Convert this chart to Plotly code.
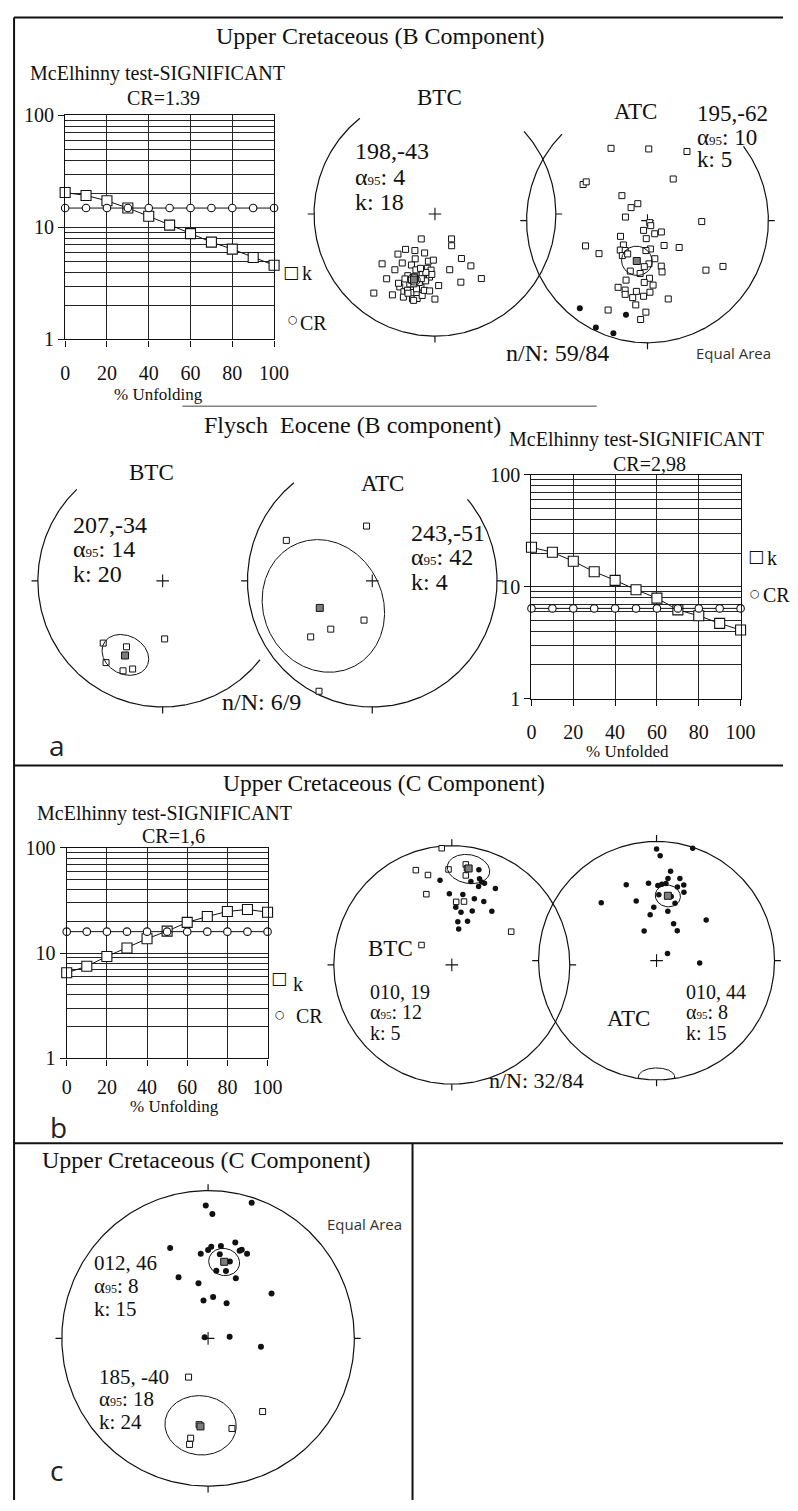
import numpy as np
import plotly.graph_objects as go

W, H = 798, 1511
INK = "#111111"
GRID = "#262626"
MEAN_FILL = "#7d7d7d"
SERIF = "Liberation Serif, Times New Roman, serif"
SANS = "Open Sans, DejaVu Sans, sans-serif"
SYMB = "DejaVu Sans, sans-serif"

# ---------------- McElhinny fold tests: precision k vs. % unfolding ----------------
unfolding = [0, 10, 20, 30, 40, 50, 60, 70, 80, 90, 100]
x_ticks = [0, 20, 40, 60, 80, 100]

ucb_k = [20.5, 19.3, 17.3, 14.9, 12.6, 10.5, 8.8, 7.4, 6.4, 5.4, 4.6]
ucb_cr = [14.9, 14.9, 14.9, 14.9, 14.9, 14.9, 14.9, 14.9, 14.9, 14.9, 14.9]
ucb_test = "CR=1.39"

fly_k = [22.5, 20.3, 16.9, 13.6, 11.4, 9.4, 7.9, 6.2, 5.5, 4.7, 4.1]
fly_cr = [6.4, 6.4, 6.4, 6.4, 6.4, 6.4, 6.4, 6.4, 6.4, 6.4, 6.4]
fly_test = "CR=2,98"

ucc_k = [6.5, 7.5, 9.3, 11.2, 13.7, 16.2, 19.6, 22.3, 24.9, 26.0, 24.5]
ucc_cr = [16.0, 16.0, 16.0, 16.0, 16.0, 16.0, 16.0, 16.0, 16.0, 16.0, 16.0]
ucc_test = "CR=1,6"

# ---------------- site directions (declination, inclination) ----------------
# Upper Cretaceous, B component, before tilt correction
ucb_btc_dec = [209, 146, 152, 220, 209, 223, 195, 227, 214, 204, 205, 188, 182, 149, 145, 216, 188, 184, 165, 217,
               204, 198, 192, 185, 188, 144, 159, 177, 206, 197, 191, 218, 208, 202, 200, 201, 193, 195, 192, 189,
               180, 193, 199, 200, 183, 208, 188, 194, 192, 189, 200, 194, 205, 184, 195, 199, 197]
ucb_btc_inc = [-71, -70, -66, -59, -62, -53, -63, -40, -50, -57, -52, -58, -59, -55, -47, -43, -53, -52, -51, -34,
               -44, -45, -48, -47, -44, -35, -40, -41, -34, -38, -39, -19, -26, -32, -34, -28, -34, -29, -30, -33,
               -31, -42, -50, -39, -49, -36, -37, -28, -45, -50, -42, -37, -41, -37, -52, -32, -40]
# Upper Cretaceous, B component, after tilt correction
ucb_atc_dec = [333, 1, 30, 32, 299, 302, 314, 330, 308, 279, 132, 202, 147, 129, 151, 184, 240, 91, 248, 146,
               130, 225, 223, 217, 174, 236, 216, 211, 178, 184, 163, 164, 130, 121, 200, 178, 183, 204, 198, 189,
               178, 197, 183, 191, 165, 188, 204, 181, 184, 183, 169, 188, 175, 199, 218, 193, 206, 197]
ucb_atc_inc = [-34, -41, -35, -57, -39, -40, -66, -77, -76, -75, -88, -83, -86, -78, -80, -78, -69, -53, -44, -70,
               -62, -67, -63, -65, -71, -50, -61, -64, -61, -59, -58, -54, -37, -28, -47, -51, -48, -40, -40, -41,
               -41, -37, -38, -36, -34, -31, -21, -26, -20, -70, -64, -54, -46, -54, 10, 22, 3, 4]

# Flysch Eocene, B component
fly_btc_dec = [224, 178, 209, 215, 204, 199]
fly_btc_inc = [-32, -52, -40, -22, -23, -27]
fly_atc_dec = [354, 295, 192, 221, 228, 206]
fly_atc_inc = [-54, -25, -64, -48, -34, -3]

# Upper Cretaceous, C component
ucc_btc_dec = [355, 8, 9, 358, 345, 339, 9, 340, 4, 11, 61, 303,
               352, 13, 18, 20, 22, 19, 16, 4, 10, 11, 21, 37, 20, 8, 9, 358, 19, 30, 27]
ucc_btc_inc = [-2, -16, -19, -21, -23, -16, -25, -37, -46, -45, -42, -65,
               29, 29, 25, 27, 27, 31, 18, 50, 53, 65, 50, 43, 58, 60, 40, 40, 41, 27, 40]
ucc_atc_dec = [0, 2, 18, 9, 8, 16, 338, 1, 4, 7, 20, 316, 354, 16, 22, 2, 13, 18, 357, 13,
               352, 51, 25, 337, 35, 57, 93, 341]
ucc_atc_inc = [7, 13, 1, 25, 31, 29, 32, 37, 36, 35, 33, 33, 35, 36, 38, 44, 44, 48, 53, 55,
               58, 45, 62, 68, 65, 81, 60, 46]
# Upper Cretaceous, C component, tilt corrected, both polarities
ucc_tc_dec = [359, 18, 2, 337, 355, 0, 2, 8, 16, 20, 21, 25, 8, 16, 7, 15, 25, 334, 350, 7,
              353, 28, 55, 290, 86, 99, 207, 143, 165, 186, 190, 190]
ucc_tc_inc = [11, 4, 17, 34, 42, 40, 38, 37, 33, 37, 36, 37, 42, 45, 52, 51, 53, 52, 59, 67,
              69, 68, 46, 88, 78, 60, -66, -38, -37, -41, -32, -28]

# ---------------- Fisher means ----------------
ucb_btc_mean = dict(dec=198, inc=-43, a95=4, k=18)
ucb_atc_mean = dict(dec=195, inc=-62, a95=10, k=5)
fly_btc_mean = dict(dec=207, inc=-34, a95=14, k=20)
fly_atc_mean = dict(dec=243, inc=-51, a95=42, k=4)
ucc_btc_mean = dict(dec=10, inc=19, a95=12, k=5)
ucc_atc_mean = dict(dec=10, inc=44, a95=8, k=15)
ucc_atc_reverse = dict(dec=180, inc=-2, a95=9)
ucc_normal_mean = dict(dec=12, inc=46, a95=8, k=15)
ucc_reverse_mean = dict(dec=185, inc=-40, a95=18, k=24)

ucb_count = (59, 84)
fly_count = (6, 9)
ucc_count = (32, 84)


# ---------------- helpers ----------------
def project(dec, inc):
    """Equal-area (Schmidt) projection; hemisphere is shown by the symbol."""
    d = np.radians(np.asarray(dec, float))
    i = np.radians(np.abs(np.asarray(inc, float)))
    r = np.sqrt(2.0) * np.sin((np.pi / 2 - i) / 2)
    return r * np.sin(d), r * np.cos(d)


def confidence_circle(dec, inc, a95, n=361):
    d, i, a = np.radians([dec, inc, a95])
    m = np.array([np.cos(i) * np.cos(d), np.cos(i) * np.sin(d), np.sin(i)])
    u = np.array([-np.sin(i) * np.cos(d), -np.sin(i) * np.sin(d), np.cos(i)])
    v = np.cross(m, u)
    t = np.linspace(0, 2 * np.pi, n)
    p = np.cos(a) * m[:, None] + np.sin(a) * (np.cos(t) * u[:, None] + np.sin(t) * v[:, None])
    cdec = np.degrees(np.arctan2(p[1], p[0]))
    cinc = np.degrees(np.arcsin(np.clip(p[2], -1, 1)))
    x, y = project(cdec, cinc)
    same = np.sign(cinc) == np.sign(inc)
    xs = [float(a_) if s else None for a_, s in zip(x, same)]
    ys = [float(b_) if s else None for b_, s in zip(y, same)]
    return xs, ys


fig = go.Figure()
layout_axes = {}
notes = []
shapes = []


def make_axes(px0, px1, py0, py1, xrange, yrange, ytype="linear"):
    i = len(layout_axes) // 2 + 1
    s = "" if i == 1 else str(i)
    layout_axes["xaxis" + s] = dict(domain=[px0 / W, px1 / W], range=xrange, anchor="y" + s,
                                    visible=False, fixedrange=True)
    layout_axes["yaxis" + s] = dict(domain=[1 - py1 / H, 1 - py0 / H], range=yrange, type=ytype,
                                    anchor="x" + s, visible=False, fixedrange=True)
    return "x" + s, "y" + s, "xaxis" + s, "yaxis" + s


def text(s, x, y, size=20, family=SERIF, anchor="center", color=INK):
    notes.append(dict(text=s, x=x / W, y=1 - y / H, xref="paper", yref="paper", showarrow=False,
                      xanchor=anchor, yanchor="middle", borderpad=0,
                      font=dict(family=family, size=size, color=color)))


def seg(x0, y0, x1, y1, w=2, color=INK):
    shapes.append(dict(type="line", xref="paper", yref="paper", x0=x0 / W, x1=x1 / W,
                       y0=1 - y0 / H, y1=1 - y1 / H, line=dict(color=color, width=w)))


LOG_MINOR = [m * 10 ** e for e in (0, 1) for m in range(2, 10)]


def fold_test(box, k, cr, standoff):
    x0, x1, y0, y1 = box
    xa, ya, xk, yk = make_axes(x0, x1, y0, y1, [0, 100], [0, 2], "log")
    common = dict(visible=True, showline=True, linecolor=INK, linewidth=1.4, mirror=True,
                  ticks="outside", ticklen=6, tickwidth=1.2, tickcolor=INK,
                  showgrid=True, gridcolor=GRID, gridwidth=1, zeroline=False,
                  tickfont=dict(family=SERIF, size=20, color=INK))
    layout_axes[xk].update(common, tickmode="array", tickvals=x_ticks,
                           ticktext=[str(v) for v in x_ticks], ticklabelstandoff=standoff)
    layout_axes[yk].update(common, tickmode="array", tickvals=[1, 10, 100], ticktext=["1", "10", "100"],
                           minor=dict(tickmode="array", tickvals=LOG_MINOR, showgrid=True,
                                      gridcolor=GRID, gridwidth=1, ticks=""))
    fig.add_trace(go.Scatter(x=unfolding, y=k, xaxis=xa, yaxis=ya, mode="lines+markers",
                             cliponaxis=False, hoverinfo="skip", line=dict(color=INK, width=1),
                             marker=dict(symbol="square", size=10, color="white",
                                         line=dict(color=INK, width=1.1))))
    fig.add_trace(go.Scatter(x=unfolding, y=cr, xaxis=xa, yaxis=ya, mode="lines+markers",
                             cliponaxis=False, hoverinfo="skip", line=dict(color=INK, width=1),
                             marker=dict(symbol="circle", size=7.5, color="white",
                                         line=dict(color=INK, width=1.1))))


def net(cx, cy, R, arc=(0, 360), tick_dirs=(0, 90, 180, 270)):
    ext = 1.12 * R
    px0, px1 = max(cx - ext, 0), min(cx + ext, W)
    py0, py1 = max(cy - ext, 0), min(cy + ext, H)
    xa, ya, _, _ = make_axes(px0, px1, py0, py1,
                             [(px0 - cx) / R, (px1 - cx) / R], [(cy - py1) / R, (cy - py0) / R])
    th = np.radians(np.linspace(arc[0], arc[1], 400))
    fig.add_trace(go.Scatter(x=np.cos(th), y=np.sin(th), xaxis=xa, yaxis=ya, mode="lines",
                             hoverinfo="skip", line=dict(color=INK, width=1.2)))
    tl = 1 + 6.5 / R
    tx, ty = [], []
    for a in tick_dirs:
        c, s = np.cos(np.radians(a)), np.sin(np.radians(a))
        tx += [c, tl * c, None]
        ty += [s, tl * s, None]
    fig.add_trace(go.Scatter(x=tx, y=ty, xaxis=xa, yaxis=ya, mode="lines", hoverinfo="skip",
                             line=dict(color=INK, width=1.2)))
    fig.add_trace(go.Scatter(x=[0], y=[0], xaxis=xa, yaxis=ya, mode="markers", hoverinfo="skip",
                             marker=dict(symbol="cross-thin", size=9, line=dict(color=INK, width=1.1))))
    return xa, ya


def sites(xa, ya, dec, inc, size=6):
    dec = np.asarray(dec, float)
    inc = np.asarray(inc, float)
    up = inc < 0
    if up.any():
        x, y = project(dec[up], inc[up])
        fig.add_trace(go.Scatter(x=x, y=y, xaxis=xa, yaxis=ya, mode="markers", hoverinfo="skip",
                                 marker=dict(symbol="square", size=size, color="white",
                                             line=dict(color=INK, width=1))))
    if (~up).any():
        x, y = project(dec[~up], inc[~up])
        fig.add_trace(go.Scatter(x=x, y=y, xaxis=xa, yaxis=ya, mode="markers", hoverinfo="skip",
                                 marker=dict(symbol="circle", size=size, color=INK,
                                             line=dict(color=INK, width=0))))


def mean(xa, ya, m, size=7, marker=True):
    cx_, cy_ = confidence_circle(m["dec"], m["inc"], m["a95"])
    fig.add_trace(go.Scatter(x=cx_, y=cy_, xaxis=xa, yaxis=ya, mode="lines", hoverinfo="skip",
                             connectgaps=False, line=dict(color=INK, width=1)))
    if marker:
        x, y = project([m["dec"]], [m["inc"]])
        fig.add_trace(go.Scatter(x=x, y=y, xaxis=xa, yaxis=ya, mode="markers", hoverinfo="skip",
                                 marker=dict(symbol="square", size=size, color=MEAN_FILL,
                                             line=dict(color=INK, width=1))))


def stats_block(m, left, ys, size, sep):
    small = round(size * 0.55)
    text(f"{m['dec']:03d}{sep}{m['inc']}", left, ys[0], size, anchor="left")
    text(f"α<span style='font-size:{small}px'>95</span>: {m['a95']}", left, ys[1], size, anchor="left")
    text(f"k: {m['k']}", left, ys[2], size, anchor="left")


def legend(sq, k_xy, circ, cr_xy):
    text("□", sq[0], sq[1], 17, SYMB)
    text("k", k_xy[0], k_xy[1], 20, anchor="left")
    text("○", circ[0], circ[1], 11, SYMB)
    text("CR", cr_xy[0], cr_xy[1], 20, anchor="left")


# ================= panel a: Upper Cretaceous, B component =================
text("Upper Cretaceous (B Component)", 385, 25, 24)
text("McElhinny test-SIGNIFICANT", 156, 63, 20)
text(ucb_test, 163, 88, 20)
fold_test((61.7, 276, 106, 333.3), ucb_k, ucb_cr, 9)
text("% Unfolding", 157, 389, 17)
legend((293, 265), (304, 266), (295, 313), (302, 317))

xa, ya = net(441, 206, 124, arc=(128.4, 402.5), tick_dirs=(0, 180, 270))
sites(xa, ya, ucb_btc_dec, ucb_btc_inc)
mean(xa, ya, ucb_btc_mean)
text("BTC", 446, 88, 23)
stats_block(ucb_btc_mean, 358, (141.7, 168, 194), 24, ",")

xa, ya = net(659, 212.7, 124, arc=(135, 397.4), tick_dirs=(0, 180, 270))
sites(xa, ya, ucb_atc_dec, ucb_atc_inc)
mean(xa, ya, ucb_atc_mean)
text("ATC", 647, 101.7, 23)
stats_block(ucb_atc_mean, 709, (104, 128, 151), 23, ",")
text(f"n/N: {ucb_count[0]}/{ucb_count[1]}", 566.5, 346.7, 24)
text("Equal Area", 747, 346.7, 15, SANS, color="#333333")

seg(182, 401, 607, 401, 1, "#444444")

# ---- Flysch Eocene, B component ----
text("Flysch\u00a0 Eocene (B component)", 356, 420, 24)

xa, ya = net(161.7, 578.3, 128, arc=(133.5, 321.3), tick_dirs=(180, 270))
sites(xa, ya, fly_btc_dec, fly_btc_inc)
mean(xa, ya, fly_btc_mean)
text("BTC", 150, 468.3, 23)
stats_block(fly_btc_mean, 69, (521.7, 546, 571), 24, ",")

xa, ya = net(376.7, 578.3, 128, arc=(128.9, 400.3), tick_dirs=(0, 180, 270))
sites(xa, ya, fly_atc_dec, fly_atc_inc)
mean(xa, ya, fly_atc_mean)
text("ATC", 386.7, 479.3, 23)
stats_block(fly_atc_mean, 415, (530, 554, 579), 24, ",")
text(f"n/N: {fly_count[0]}/{fly_count[1]}", 263, 701.7, 24)

text("McElhinny test-SIGNIFICANT", 647.5, 435, 20)
text(fly_test, 661, 459.3, 20)
fold_test((540, 754.5, 470.7, 697.7), fly_k, fly_cr, 9)
text("% Unfolded", 638, 751, 17)
legend((770, 552.7), (781, 555), (769, 590.7), (776.7, 593))

text("a", 53, 745, 28, SANS, color="#222222")

# ================= panel b: Upper Cretaceous, C component =================
text("Upper Cretaceous (C Component)", 388.5, 783.3, 23.5)
text("McElhinny test-SIGNIFICANT", 164, 814, 20)
text(ucc_test, 173, 837.3, 20)
fold_test((63.3, 269.3, 849.3, 1062.8), ucc_k, ucc_cr, 4)
text("% Unfolding", 174, 1111.5, 17)
legend((281.5, 981), (294, 987), (282, 1018), (297, 1020))

xa, ya = net(458.3, 968, 121)
sites(xa, ya, ucc_btc_dec, ucc_btc_inc, 5.5)
mean(xa, ya, ucc_btc_mean)
text("BTC", 395, 951.4, 23)
stats_block(ucc_btc_mean, 373, (995, 1016, 1037), 20, ", ")

xa, ya = net(668.3, 963.7, 121)
sites(xa, ya, ucc_atc_dec, ucc_atc_inc, 5.5)
mean(xa, ya, ucc_atc_mean)
mean(xa, ya, ucc_atc_reverse, marker=False)
text("ATC", 640, 1022, 23)
stats_block(ucc_atc_mean, 697, (995, 1016, 1037), 20, ", ")
text(f"n/N: {ucc_count[0]}/{ucc_count[1]}", 545, 1085, 22)

text("b", 55, 1132, 28, SANS, color="#222222")

# ================= panel c: tilt-corrected C component, both polarities =================
text("Upper Cretaceous (C Component)", 206.7, 1165.7, 24)
xa, ya = net(208.3, 1347, 150)
sites(xa, ya, ucc_tc_dec, ucc_tc_inc, 6)
mean(xa, ya, ucc_normal_mean)
mean(xa, ya, ucc_reverse_mean)
text("Equal Area", 369, 1231, 15, SANS, color="#333333")
stats_block(ucc_normal_mean, 90, (1271, 1294, 1317), 21, ", ")
stats_block(ucc_reverse_mean, 95, (1386, 1409, 1432), 21, ", ")
text("c", 53, 1481, 28, SANS, color="#222222")

# ---------------- frame lines ----------------
seg(9.3, 6.7, W, 6.7, 2)
seg(9.3, 6.7, 9.3, H, 2)
seg(9.3, 765.7, W, 765.7, 2)
seg(9.3, 1149, W, 1149, 2)
seg(418, 1149, 418, H, 2)

fig.update_layout(width=W, height=H, autosize=False, margin=dict(l=0, r=0, t=0, b=0),
                  paper_bgcolor="white", plot_bgcolor="rgba(0,0,0,0)", showlegend=False,
                  annotations=notes, shapes=shapes, **layout_axes)
fig.write_html("out.html",
               post_script="document.body.style.margin='0';document.body.style.overflow='hidden';")
